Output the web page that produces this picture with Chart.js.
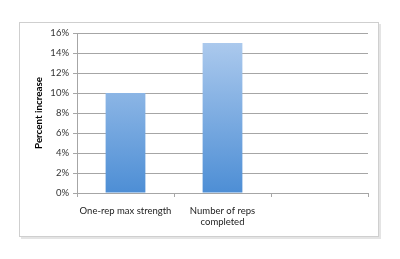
<!DOCTYPE html>
<html>
<head>
<meta charset="utf-8">
<script src="https://cdn.jsdelivr.net/npm/chart.js@4"></script>
<style>
  html, body { margin: 0; padding: 0; background: #fff; }
  #wrap { width: 400px; height: 259px; }
</style>
</head>
<body>
<div id="wrap"><canvas id="myChart" width="400" height="259"></canvas></div>
<script>
// Chart data
var categories = ['One-rep max strength', ['Number of reps', 'completed'], ''];
var increases = [10, 15, null];
var yTicks = [0, 2, 4, 6, 8, 10, 12, 14, 16];

var gridGray = '#a6a6a6';
var fontName = 'Lato, "Open Sans", sans-serif';

// Draws the light gray box around the whole chart
var framePlugin = {
    id: 'frame',
    beforeDraw: function(chart) {
        var c = chart.ctx;
        c.save();
        c.fillStyle = '#e4e4e4';
        c.fillRect(21, 24, 360, 215);
        c.fillStyle = '#fff';
        c.fillRect(19, 22, 360, 215);
        c.strokeStyle = '#cfcfcf';
        c.lineWidth = 1;
        c.strokeRect(19.5, 22.5, 359, 214);
        c.restore();
    }
};

function barGradient(context) {
    var area = context.chart.chartArea;
    if (!area) return '#6a9fdc';
    var yScale = context.chart.scales.y;
    var g = context.chart.ctx.createLinearGradient(0, yScale.getPixelForValue(15), 0, area.bottom);
    g.addColorStop(0, '#abc9ed');
    g.addColorStop(1, '#4d8ed5');
    return g;
}

var ctx = document.getElementById('myChart');
var myChart = new Chart(ctx, {
    type: 'bar',
    data: {
        labels: categories,
        datasets: [{
            data: increases,
            backgroundColor: barGradient,
            borderWidth: 0,
            barPercentage: 0.41,
            categoryPercentage: 1
        }]
    },
    options: {
        responsive: false,
        animation: false,
        events: [],
        layout: { padding: { left: 20, top: 33, right: 32, bottom: 20 } },
        plugins: {
            legend: { display: false },
            tooltip: { enabled: false }
        },
        scales: {
            x: {
                grid: {
                    offset: true,
                    drawOnChartArea: false,
                    drawTicks: true,
                    tickLength: 4,
                    color: gridGray
                },
                border: { color: gridGray },
                ticks: {
                    color: '#222',
                    padding: 8,
                    maxRotation: 0,
                    autoSkip: false,
                    font: { family: fontName, size: 9.5 }
                },
                afterFit: function(scale) { scale.height = 46; }
            },
            y: {
                min: 0,
                max: 16,
                afterBuildTicks: function(scale) {
                    scale.ticks = yTicks.map(function(v) { return { value: v }; });
                },
                grid: {
                    color: gridGray,
                    tickLength: 4
                },
                border: { color: gridGray },
                ticks: {
                    color: '#333',
                    padding: 4,
                    font: { family: fontName, size: 9.5 },
                    callback: function(value) { return value + '%'; }
                },
                title: {
                    display: true,
                    text: 'Percent increase',
                    color: '#000',
                    padding: { top: 13, bottom: 0 },
                    font: { family: fontName, size: 9.8, weight: 'bold' }
                },
                afterFit: function(scale) { scale.width = 57; }
            }
        }
    },
    plugins: [framePlugin]
});
</script>
</body>
</html>
